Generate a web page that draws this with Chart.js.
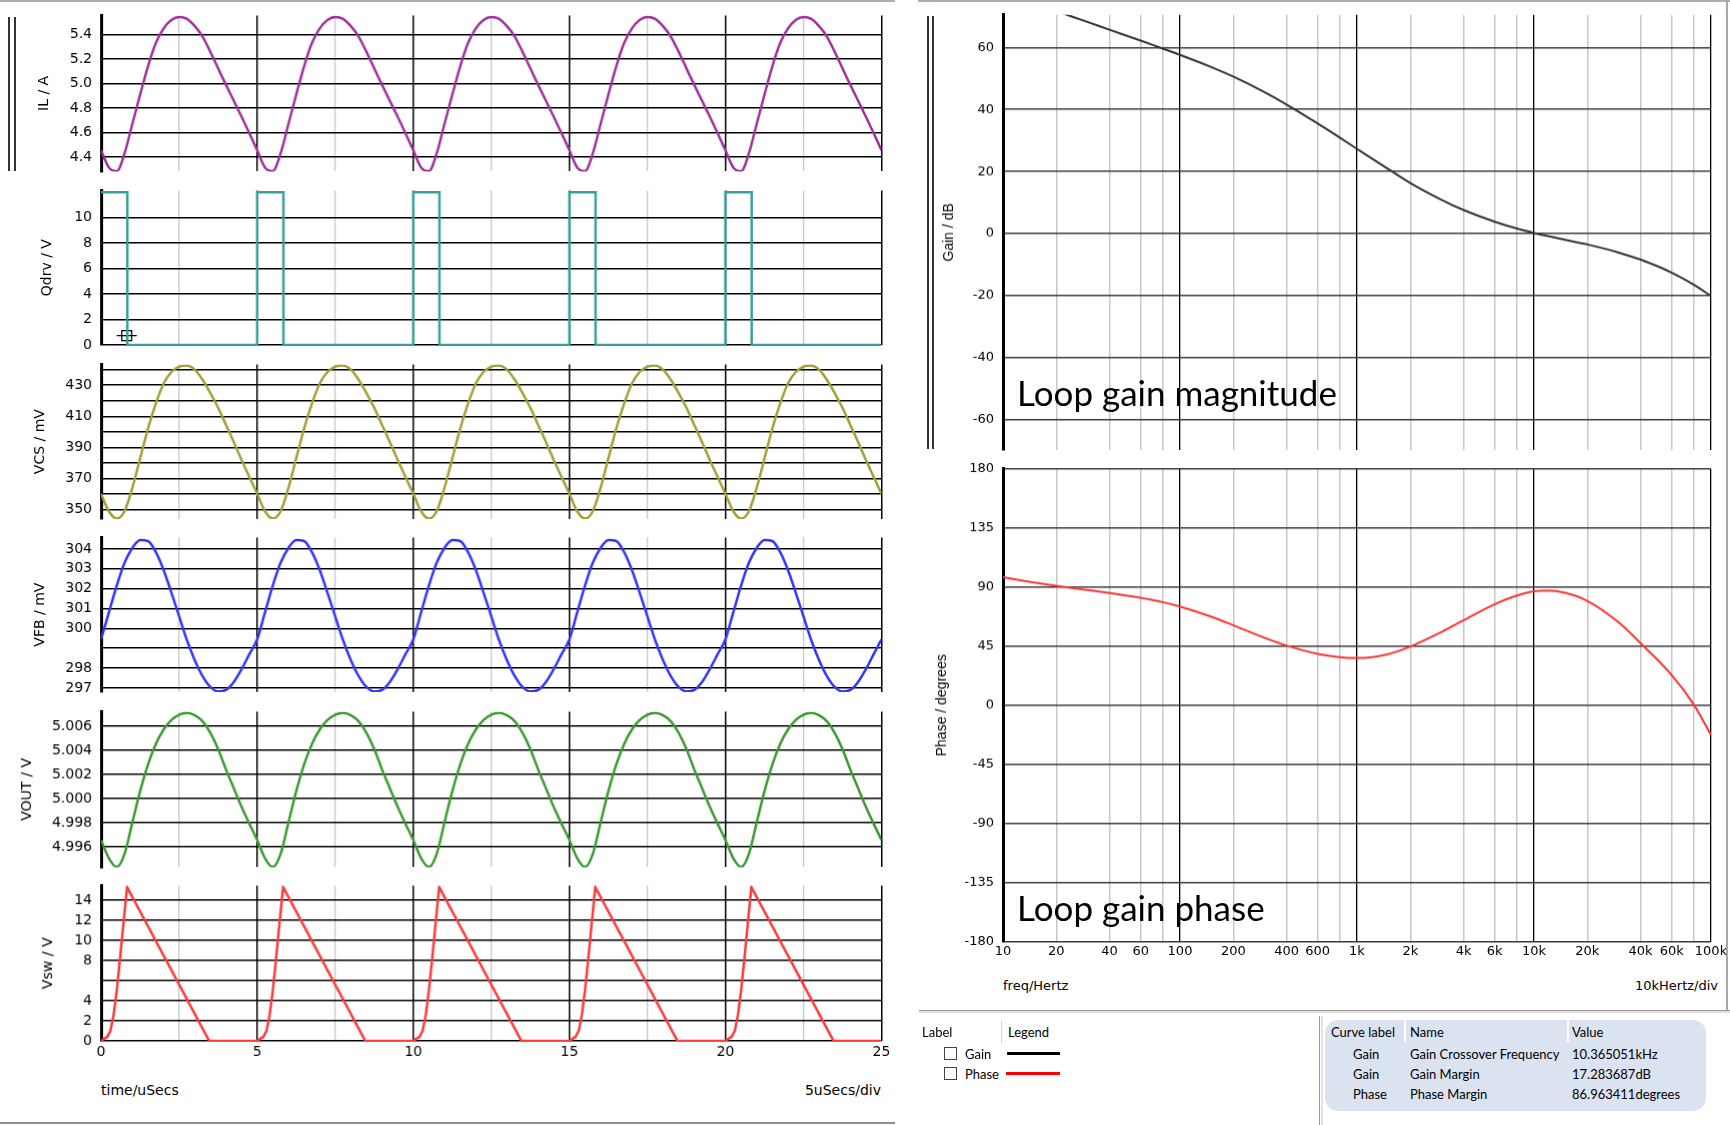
<!DOCTYPE html>
<html>
<head>
<meta charset="utf-8">
<script src="https://cdn.jsdelivr.net/npm/chart.js@4.4.0/dist/chart.umd.min.js"></script>
<style>
  html, body { margin: 0; padding: 0; background: #fff; }
  body { position: relative; width: 1730px; height: 1125px; overflow: hidden; font-family: 'DejaVu Sans', sans-serif; }
  .box { position: absolute; }
  .txt { position: absolute; white-space: nowrap; line-height: 1; transform: translateY(-50%); z-index: 2; color: #000; }
  .ln { position: absolute; z-index: 1; }
  .ui { font-family: Lato, 'Open Sans', sans-serif; font-size: 13px; }
  .big { font-family: Lato, 'Open Sans', sans-serif; font-size: 35px; }
  .chk { position: absolute; width: 11px; height: 11px; border: 1px solid #444; background: #fff; }
</style>
</head>
<body>

<!-- window chrome -->
<div class="ln" style="left:0;top:0;width:895px;height:2px;background:#aab0b8"></div>
<div class="ln" style="left:918px;top:0;width:812px;height:2px;background:#aab0b8"></div>
<div class="ln" style="left:0;top:1122px;width:895px;height:2px;background:#8c9099"></div>
<div class="ln" style="left:8px;top:17px;width:2px;height:154px;background:#333"></div>
<div class="ln" style="left:14px;top:17px;width:2px;height:154px;background:#333"></div>
<div class="ln" style="left:927px;top:16px;width:2px;height:433px;background:#333"></div>
<div class="ln" style="left:932px;top:16px;width:2px;height:433px;background:#333"></div>
<div class="ln" style="left:1726px;top:0;width:2px;height:1011px;background:#a8a8a8"></div>
<div class="ln" style="left:919px;top:1010px;width:811px;height:1px;background:#9a9a9a"></div>
<div class="ln" style="left:919px;top:1011px;width:811px;height:2px;background:#e2e2e2"></div>
<div class="ln" style="left:1319px;top:1016px;width:1px;height:109px;background:#9a9a9a"></div>
<div class="ln" style="left:1321px;top:1016px;width:2px;height:109px;background:#e2e2e2"></div>

<!-- axis captions -->
<div class="txt" style="left:101px;top:1090px;font-size:14px">time/uSecs</div>
<div class="txt" style="right:849px;top:1090px;font-size:14px">5uSecs/div</div>
<div class="txt" style="left:1003px;top:985px;font-size:13px">freq/Hertz</div>
<div class="txt" style="right:12px;top:985px;font-size:13px">10kHertz/div</div>
<div class="txt big" style="left:1017px;top:392px">Loop gain magnitude</div>
<div class="txt big" style="left:1017px;top:907px">Loop gain phase</div>

<!-- legend pane -->
<div class="txt ui" style="left:922px;top:1032px">Label</div>
<div class="ln" style="left:1001px;top:1021px;width:1px;height:22px;background:#d4d4d4"></div>
<div class="txt ui" style="left:1008px;top:1032px">Legend</div>
<div class="chk" style="left:944px;top:1047px"></div>
<div class="txt ui" style="left:965px;top:1054px">Gain</div>
<div class="ln" style="left:1007px;top:1052px;width:53px;height:3px;background:#000"></div>
<div class="chk" style="left:944px;top:1067px"></div>
<div class="txt ui" style="left:965px;top:1074px">Phase</div>
<div class="ln" style="left:1006px;top:1072px;width:54px;height:3px;background:#ff0000"></div>

<!-- measurement table -->
<div class="ln" style="left:1325px;top:1020px;width:381px;height:91px;background:#dce3f0;border-radius:13px"></div>
<div class="ln" style="left:1404px;top:1020px;width:2px;height:22px;background:#fff;z-index:2"></div>
<div class="ln" style="left:1567px;top:1020px;width:2px;height:22px;background:#fff;z-index:2"></div>
<div class="txt ui" style="left:1331px;top:1032px">Curve label</div>
<div class="txt ui" style="left:1410px;top:1032px">Name</div>
<div class="txt ui" style="left:1572px;top:1032px">Value</div>
<div class="txt ui" style="left:1353px;top:1054px">Gain</div>
<div class="txt ui" style="left:1410px;top:1054px">Gain Crossover Frequency</div>
<div class="txt ui" style="left:1572px;top:1054px">10.365051kHz</div>
<div class="txt ui" style="left:1353px;top:1074px">Gain</div>
<div class="txt ui" style="left:1410px;top:1074px">Gain Margin</div>
<div class="txt ui" style="left:1572px;top:1074px">17.283687dB</div>
<div class="txt ui" style="left:1353px;top:1094px">Phase</div>
<div class="txt ui" style="left:1410px;top:1094px">Phase Margin</div>
<div class="txt ui" style="left:1572px;top:1094px">86.963411degrees</div>

<script>
Chart.defaults.font.family = "'DejaVu Sans', sans-serif";
Chart.defaults.color = '#000';

// ---- transient waveforms: one 5 us switching period ----
const period = 5;
const periods = 5;
const tCycle = [0, 0.25, 0.5, 0.75, 1, 1.25, 1.5, 1.75, 2, 2.25, 2.5, 2.75, 3, 3.25, 3.5, 3.75, 4, 4.25, 4.5, 4.75];
const ilCycle = [4.455, 4.315, 4.285, 4.43, 4.67, 4.91, 5.14, 5.33, 5.45, 5.52, 5.545, 5.53, 5.47, 5.385, 5.26, 5.125, 4.99, 4.86, 4.73, 4.595];
const vcsCycle = [360.3, 349, 344.3, 349, 364, 383, 402, 418, 431, 438.5, 442, 442.7, 440, 433.5, 425, 415.5, 404.5, 393.5, 382, 371];
const vfbCycle = [299.45, 300.8, 302.15, 303.3, 304.05, 304.45, 304.4, 303.85, 302.95, 301.8, 300.6, 299.4, 298.4, 297.6, 297.05, 296.82, 296.9, 297.3, 297.95, 298.7];
const voutCycle = [4.99655, 4.99505, 4.99432, 4.9954, 4.998, 5.0006, 5.0028, 5.0045, 5.0057, 5.0065, 5.00695, 5.0071, 5.0069, 5.0064, 5.00545, 5.0041, 5.0024, 5.00085, 4.9993, 4.9979];
const qdrvT = [0, 0.84, 0.84, 5];
const qdrvV = [12, 12, 0, 0];
const vswT = [0, 0.2, 0.3, 0.4, 0.5, 0.6, 0.7, 0.83, 3.46];
const vswV = [0, 0.4, 1.0, 2.6, 5.0, 8.0, 11.2, 15.3, 0];
const cursorT = [0.82];
const cursorV = [0.73];

// tick positions
const timeTicks = [0, 2.5, 5, 7.5, 10, 12.5, 15, 17.5, 20, 22.5, 25];
const ilTicks = [4.4, 4.6, 4.8, 5.0, 5.2, 5.4];
const qdrvTicks = [0, 2, 4, 6, 8, 10];
const vcsTicks = [350, 360, 370, 380, 390, 400, 410, 420, 430, 440];
const vcsLabels = [350, 370, 390, 410, 430];
const vfbTicks = [297, 298, 299, 300, 301, 302, 303, 304];
const vfbLabels = [297, 298, 300, 301, 302, 303, 304];
const voutTicks = [4.996, 4.998, 5.000, 5.002, 5.004, 5.006];
const vswTicks = [0, 2, 4, 6, 8, 10, 12, 14];
const vswLabels = [0, 2, 4, 8, 10, 12, 14];

// ---- loop gain (Bode) ----
const freqHz = [10, 15, 20, 30, 40, 60, 80, 100, 150, 200, 300, 400, 600, 800, 1000, 1500, 2000, 3000, 4000, 6000, 8000, 10000, 12000, 15000, 20000, 30000, 40000, 60000, 80000, 100000];
const gainDb = [77.7, 74.2, 71.7, 68.2, 65.7, 62.2, 59.6, 57.6, 53.7, 50.6, 45.6, 41.6, 35.5, 30.9, 27.3, 20.8, 16.3, 10.9, 7.6, 3.8, 1.6, 0.2, -0.8, -2.0, -3.5, -6.1, -8.4, -12.6, -16.5, -20.1];
const phaseDeg = [97.4, 93.5, 91.0, 87.8, 85.5, 81.8, 78.5, 75.2, 67.5, 61.0, 51.4, 45.5, 39.2, 36.7, 36.0, 39.0, 44.7, 55.8, 64.7, 77.0, 83.5, 86.8, 87.3, 85.6, 79.5, 63.3, 47.3, 23.0, 0.5, -22.5];
const freqTicks = [10, 20, 40, 60, 80, 100, 200, 400, 600, 800, 1000, 2000, 4000, 6000, 8000, 10000, 20000, 40000, 60000, 80000, 100000];
const freqLabels = ['10', '20', '40', '60', '', '100', '200', '400', '600', '', '1k', '2k', '4k', '6k', '', '10k', '20k', '40k', '60k', '', '100k'];
const gainTicks = [-60, -40, -20, 0, 20, 40, 60];
const phaseTicks = [-180, -135, -90, -45, 0, 45, 90, 135, 180];

function tile(ts, vs, last) {
  const pts = [];
  for (let k = 0; k < periods; k++) {
    ts.forEach((t, i) => pts.push({ x: k * period + t, y: vs[i] }));
  }
  if (last !== undefined) pts.push({ x: periods * period, y: last });
  return pts;
}

function pairs(xs, ys) {
  return xs.map((x, i) => ({ x: x, y: ys[i] }));
}

const setTicks = list => scale => { scale.ticks = list.map(v => ({ value: v })); };

// places a chart so that its plot area lands exactly on box (page pixels)
function mount(cfg, box) {
  const holder = document.createElement('div');
  holder.className = 'box';
  const canvas = document.createElement('canvas');
  holder.appendChild(canvas);
  document.body.appendChild(holder);
  holder.style.left = '0px';
  holder.style.top = '0px';
  holder.style.width = (box.r - box.l + 200) + 'px';
  holder.style.height = (box.b - box.t + 100) + 'px';
  const chart = new Chart(canvas, cfg);
  const a = chart.chartArea;
  const inL = a.left, inT = a.top, inR = chart.width - a.right, inB = chart.height - a.bottom;
  holder.style.left = (box.l - inL) + 'px';
  holder.style.top = (box.t - inT) + 'px';
  holder.style.width = (box.r - box.l + inL + inR) + 'px';
  holder.style.height = (box.b - box.t + inT + inB) + 'px';
  chart.resize();
  return chart;
}

const LEFT_W = 101;

function wavePanel(o) {
  return {
    type: 'line',
    data: { datasets: o.datasets },
    options: {
      responsive: true,
      maintainAspectRatio: false,
      animation: false,
      events: [],
      layout: { padding: { top: 12, bottom: o.showX ? 0 : 12, left: 0, right: 20 } },
      plugins: { legend: { display: false }, tooltip: { enabled: false } },
      elements: { point: { radius: 0 }, line: { borderWidth: 2.5 } },
      scales: {
        x: {
          type: 'linear', min: 0, max: 25, bounds: 'data',
          afterBuildTicks: setTicks(timeTicks),
          grid: {
            drawTicks: false,
            color: c => (c.tick && c.tick.value % 5 === 0) ? '#000' : '#c6c6c6',
            lineWidth: c => (c.tick && c.tick.value % 5 === 0) ? 1.5 : 1.3
          },
          border: { display: false },
          ticks: {
            display: !!o.showX, autoSkip: false, maxRotation: 0, padding: 3,
            font: { size: 14 },
            callback: v => (v % 5 === 0 ? String(v) : '')
          }
        },
        y: {
          type: 'linear', min: o.min, max: o.max, bounds: 'data',
          afterBuildTicks: setTicks(o.ticks),
          afterFit: s => { s.width = LEFT_W; },
          grid: { drawTicks: false, color: '#000', lineWidth: 1.5 },
          border: { display: true, color: '#000', width: 3 },
          ticks: { autoSkip: false, padding: 9, font: { size: 14 }, callback: o.label },
          title: {
            display: true, text: o.title, font: { size: 14 }, color: '#000',
            padding: { top: o.titleX - 8.4, bottom: 0 }
          }
        }
      }
    }
  };
}

const X0 = 101, X1 = 880.5;

mount(wavePanel({
  title: 'IL / A', titleX: 44, min: 4.283, max: 5.558, ticks: ilTicks,
  label: v => v.toFixed(1),
  datasets: [{ data: tile(tCycle, ilCycle, ilCycle[0]), borderColor: '#a0329f', cubicInterpolationMode: 'monotone' }]
}), { l: X0, r: X1, t: 15, b: 171 });

mount(wavePanel({
  title: 'Qdrv / V', titleX: 47, min: 0, max: 12.15, ticks: qdrvTicks,
  label: v => String(v),
  datasets: [
    { data: tile(qdrvT, qdrvV), borderColor: '#36a09a' },
    { data: pairs(cursorT, cursorV), showLine: false, pointStyle: 'rect', pointRadius: 7,
      pointBorderColor: '#000', pointBorderWidth: 1.3, pointBackgroundColor: 'rgba(0,0,0,0)' },
    { data: pairs(cursorT, cursorV), showLine: false, pointStyle: 'cross', pointRadius: 10,
      pointBorderColor: '#000', pointBorderWidth: 1.3 }
  ]
}), { l: X0, r: X1, t: 190, b: 344.5 });

mount(wavePanel({
  title: 'VCS / mV', titleX: 40, min: 344.1, max: 443.4, ticks: vcsTicks,
  label: v => (vcsLabels.includes(v) ? String(v) : ''),
  datasets: [{ data: tile(tCycle, vcsCycle, vcsCycle[0]), borderColor: '#a3a036', cubicInterpolationMode: 'monotone' }]
}), { l: X0, r: X1, t: 364, b: 518.5 });

mount(wavePanel({
  title: 'VFB / mV', titleX: 40, min: 296.8, max: 304.58, ticks: vfbTicks,
  label: v => (vfbLabels.includes(v) ? String(v) : ''),
  datasets: [{ data: tile(tCycle, vfbCycle, vfbCycle[0]), borderColor: '#3535ff', cubicInterpolationMode: 'monotone' }]
}), { l: X0, r: X1, t: 537.5, b: 692 });

mount(wavePanel({
  title: 'VOUT / V', titleX: 27, min: 4.99429, max: 5.00721, ticks: voutTicks,
  label: v => v.toFixed(3),
  datasets: [{ data: tile(tCycle, voutCycle, voutCycle[0]), borderColor: '#3c9a34', cubicInterpolationMode: 'monotone' }]
}), { l: X0, r: X1, t: 711.5, b: 866.5 });

mount(wavePanel({
  title: 'Vsw / V', titleX: 48, min: 0, max: 15.45, ticks: vswTicks, showX: true,
  label: v => (vswLabels.includes(v) ? String(v) : ''),
  datasets: [{ data: tile(vswT, vswV, 0), borderColor: '#ff3a3a' }]
}), { l: X0, r: X1, t: 885.5, b: 1040 });

// ---- Bode panels ----
const RIGHT_W = 90;
const isDecade = v => Math.abs(Math.log10(v) - Math.round(Math.log10(v))) < 1e-9;

function bodePanel(o) {
  return {
    type: 'line',
    data: { datasets: o.datasets },
    options: {
      responsive: true,
      maintainAspectRatio: false,
      animation: false,
      events: [],
      layout: { padding: { top: 12, bottom: o.showX ? 0 : 12, left: 0, right: 24 } },
      plugins: { legend: { display: false }, tooltip: { enabled: false } },
      elements: { point: { radius: 0 }, line: { borderWidth: 2 } },
      scales: {
        x: {
          type: 'logarithmic', min: 10, max: 100000, bounds: 'data',
          afterBuildTicks: setTicks(freqTicks),
          grid: {
            drawTicks: false,
            color: c => (c.tick && isDecade(c.tick.value)) ? '#000' : '#c8c8c8',
            lineWidth: c => (c.tick && isDecade(c.tick.value)) ? 1.3 : 1.5
          },
          border: { display: false },
          ticks: {
            display: !!o.showX, autoSkip: false, maxRotation: 0, padding: 2,
            font: { size: 13 },
            callback: (v, i) => freqLabels[i]
          }
        },
        y: {
          type: 'linear', min: o.min, max: o.max, bounds: 'data',
          afterBuildTicks: setTicks(o.ticks),
          afterFit: s => { s.width = RIGHT_W; },
          grid: { drawTicks: false, color: '#3c3c3c', lineWidth: 1.5 },
          border: { display: true, color: '#000', width: 3 },
          ticks: { autoSkip: false, padding: 9, font: { size: 13 }, callback: v => String(v) },
          title: {
            display: true, text: o.title, color: '#000',
            font: { family: "'Liberation Sans', Arial, sans-serif", size: 14 },
            padding: { top: o.titleX - (1003 - RIGHT_W) - 8.4, bottom: 0 }
          }
        }
      }
    }
  };
}

mount(bodePanel({
  title: 'Gain / dB', titleX: 949, min: -69.7, max: 70.5, ticks: gainTicks,
  datasets: [{ data: pairs(freqHz, gainDb), borderColor: '#333333', cubicInterpolationMode: 'monotone' }]
}), { l: 1003, r: 1711, t: 15, b: 449 });

mount(bodePanel({
  title: 'Phase / degrees', titleX: 942, min: -180, max: 180, ticks: phaseTicks, showX: true,
  datasets: [{ data: pairs(freqHz, phaseDeg), borderColor: '#ff3333', cubicInterpolationMode: 'monotone' }]
}), { l: 1003, r: 1711, t: 469, b: 941 });
</script>
</body>
</html>
